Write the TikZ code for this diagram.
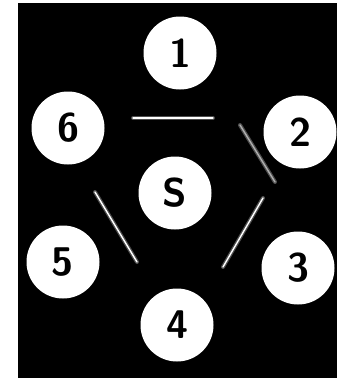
\documentclass[tikz,border=0pt]{standalone}
\begin{document}
\begin{tikzpicture}[x=1pt,y=-1pt,
  disc/.style={circle,fill=white,minimum size=73pt,inner sep=0pt,
    font=\sffamily\bfseries\fontsize{40}{40}\selectfont},
  glow/.style={line width=4pt,white,opacity=0.3,line cap=round},
  streak/.style={line width=1.4pt,white,line cap=round}]
  \useasboundingbox (0,0) rectangle (349,381);
  \fill[black] (18,3) rectangle (337,378);
  \node[disc] (n1) at (180,53) {1};
  \node[disc] (n2) at (300,132) {2};
  \node[disc] (n3) at (298,268) {3};
  \node[disc] (n4) at (177,325) {4};
  \node[disc] (n5) at (63,262) {5};
  \node[disc] (n6) at (68,128) {6};
  \node[disc] (s) at (175,193) {S};
  % light streaks
  \coordinate (a1) at (133,118);
  \coordinate (a2) at (213,118);
  \coordinate (b1) at (240,125);
  \coordinate (b2) at (275,182);
  \coordinate (c1) at (263,198);
  \coordinate (c2) at (223,267);
  \coordinate (d1) at (95,192);
  \coordinate (d2) at (137,262);
  \draw[glow] (a1) -- (a2);
  \draw[glow] (b1) -- (b2);
  \draw[glow] (c1) -- (c2);
  \draw[glow] (d1) -- (d2);
  \draw[streak] (a1) -- (a2);
  \draw[streak,opacity=0.55] (b1) -- (b2);
  \draw[streak] (c1) -- (c2);
  \draw[streak] (d1) -- (d2);
\end{tikzpicture}
\end{document}
